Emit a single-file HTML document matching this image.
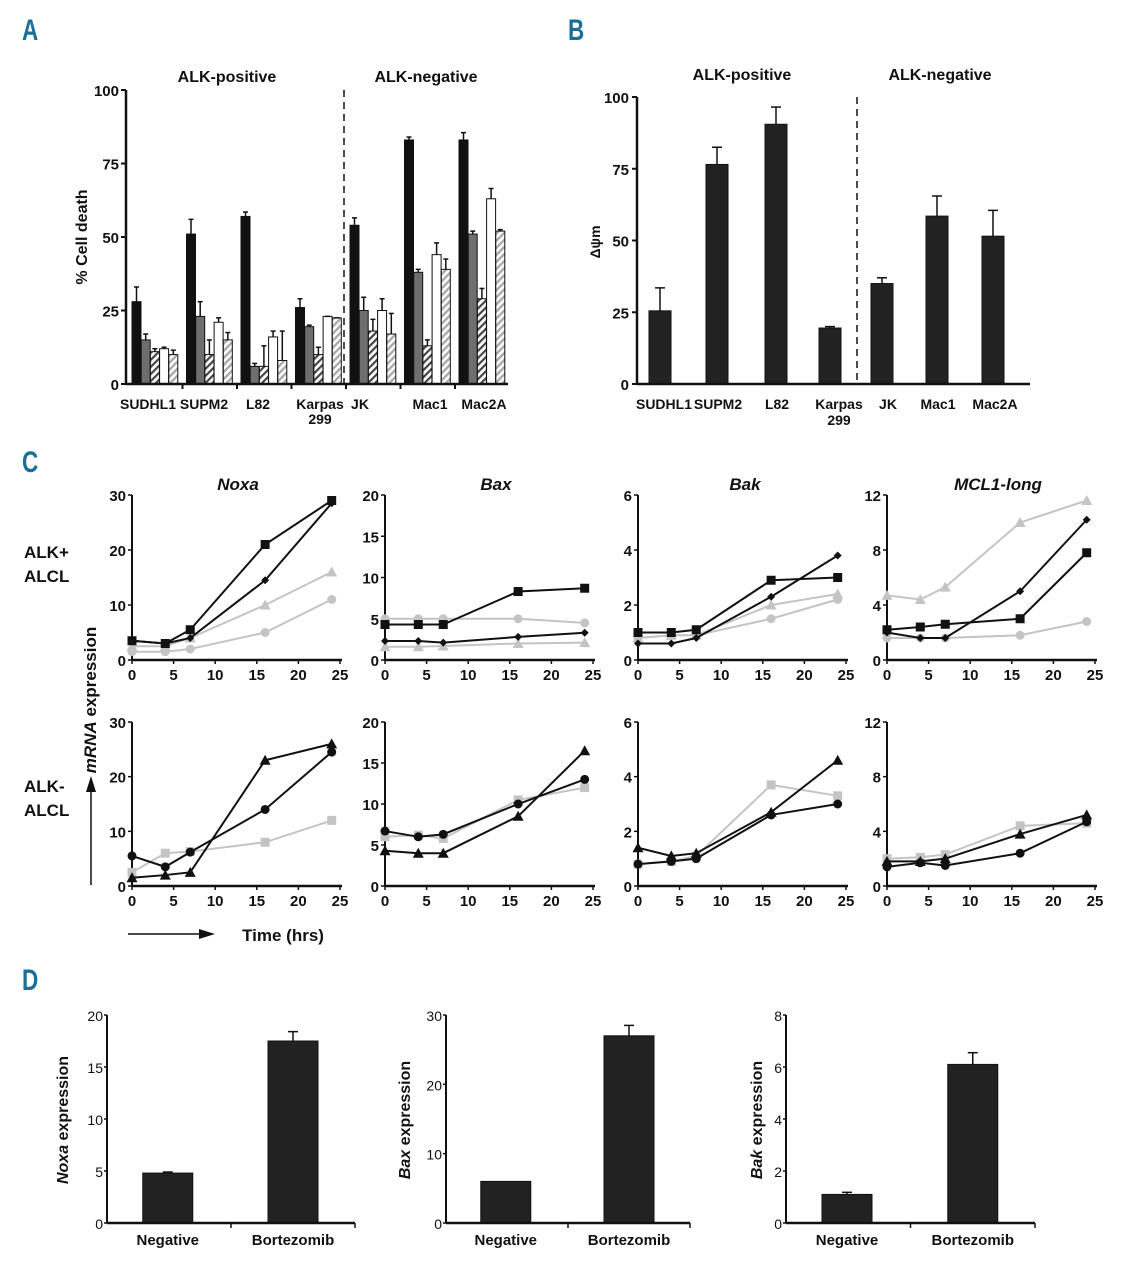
<!DOCTYPE html>
<html><head><meta charset="utf-8"><style>
body{margin:0;background:#fff;}
svg{display:block;font-family:"Liberation Sans",sans-serif;}
.L{font-weight:bold;font-size:30px;fill:#1b6e96;}
</style></head><body>
<svg id="fig" width="1125" height="1280" viewBox="0 0 1125 1280">
<defs>
<pattern id="hd" patternUnits="userSpaceOnUse" width="5" height="5" patternTransform="rotate(45)"><rect width="5" height="5" fill="#fff"/><rect width="2.2" height="5" fill="#444"/></pattern>
<pattern id="hl" patternUnits="userSpaceOnUse" width="5" height="5" patternTransform="rotate(45)"><rect width="5" height="5" fill="#fff"/><rect width="2.4" height="5" fill="#aaa"/></pattern>
</defs>
<g>
<text class="L" x="22" y="40" transform="translate(22 0) scale(0.75 1) translate(-22 0)">A</text>
<text class="L" x="568" y="40" transform="translate(568 0) scale(0.75 1) translate(-568 0)">B</text>
<text class="L" x="22" y="472" transform="translate(22 0) scale(0.75 1) translate(-22 0)">C</text>
<text class="L" x="22" y="990" transform="translate(22 0) scale(0.75 1) translate(-22 0)">D</text>
</g>
<g id="A"></g>
<g id="B"></g>
<g id="C"></g>
<g id="D"></g>
</svg>
<script>
// ---------- Panel A data ----------
const aCats = ["SUDHL1","SUPM2","L82","Karpas","JK","Mac1","Mac2A"];
const aBlack = [28,51,57,26,54,83,83];
const aGray = [15,23,6,19.5,25,38,51];
const aHatchDark = [11,10,6,10,18,13,29];
const aWhite = [12,21,16,23,25,44,63];
const aHatchLight = [10,15,8,22.5,17,39,52];
const aErrBlack = [5,5,1.5,3,2.5,1,2.5];
const aErrGray = [2,5,1,0.5,4.5,1,1];
const aErrHatchDark = [1,5,7,2.5,4,2,3.5];
const aErrWhite = [0.5,1.5,2,0,4,4,3.5];
const aErrHatchLight = [1.5,2.5,10,0,7,3.5,0.5];
const aTicks = [0,25,50,75,100];
// ---------- Panel B data ----------
const bCats = ["SUDHL1","SUPM2","L82","Karpas","JK","Mac1","Mac2A"];
const bVals = [25.5,76.5,90.5,19.5,35,58.5,51.5];
const bErr = [8,6,6,0.5,2,7,9];
const bTicks = [0,25,50,75,100];
// ---------- Panel C data ----------
const cTimes = [0,4,7,16,24];
const cXTicks = [0,5,10,15,20,25];
const cNoxaTopSquare = [3.5,3,5.5,21,29];
const cNoxaTopDiamond = [3.5,3,4,14.5,28.5];
const cNoxaTopTri = [2.5,2.5,4,10,16];
const cNoxaTopCircle = [1.5,1.5,2,5,11];
const cBaxTopSquare = [4.3,4.3,4.3,8.3,8.7];
const cBaxTopCircle = [5,5,5,5,4.5];
const cBaxTopDiamond = [2.3,2.3,2.1,2.8,3.3];
const cBaxTopTri = [1.6,1.6,1.7,2,2.1];
const cBakTopSquare = [1,1,1.1,2.9,3];
const cBakTopDiamond = [0.6,0.6,0.8,2.3,3.8];
const cBakTopTri = [0.8,0.9,0.9,2,2.4];
const cBakTopCircle = [0.8,0.9,0.9,1.5,2.2];
const cMclTopTri = [4.7,4.4,5.3,10,11.6];
const cMclTopDiamond = [2,1.6,1.6,5,10.2];
const cMclTopSquare = [2.2,2.4,2.6,3,7.8];
const cMclTopCircle = [1.6,1.6,1.6,1.8,2.8];
const cNoxaBotTri = [1.5,2,2.5,23,26];
const cNoxaBotCircle = [5.5,3.5,6.2,14,24.5];
const cNoxaBotSquare = [2.5,6,6.3,8,12];
const cBaxBotCircle = [6.7,6,6.3,10,13];
const cBaxBotSquare = [6,6.2,5.8,10.5,12];
const cBaxBotTri = [4.3,4,4,8.5,16.5];
const cBakBotTri = [1.4,1.1,1.2,2.7,4.6];
const cBakBotCircle = [0.8,0.9,1,2.6,3];
const cBakBotSquare = [0.8,0.9,1.1,3.7,3.3];
const cMclBotTri = [1.8,1.8,2,3.8,5.2];
const cMclBotCircle = [1.4,1.7,1.5,2.4,4.7];
const cMclBotSquare = [2,2.1,2.3,4.4,4.6];
const cNoxaTicks = [0,10,20,30];
const cBaxTicks = [0,5,10,15,20];
const cBakTicks = [0,2,4,6];
const cMclTicks = [0,4,8,12];
// ---------- Panel D data ----------
const dCats = ["Negative","Bortezomib"];
const dNoxa = [4.8,17.5];
const dNoxaErr = [0.1,0.9];
const dBax = [6,27];
const dBaxErr = [0,1.5];
const dBak = [1.1,6.1];
const dBakErr = [0.08,0.45];
const dNoxaTicks = [0,5,10,15,20];
const dBaxTicks = [0,10,20,30];
const dBakTicks = [0,2,4,6,8];

const NS="http://www.w3.org/2000/svg";
function mk(parent,tag,attrs,txt){const e=document.createElementNS(NS,tag);for(const k in attrs)e.setAttribute(k,attrs[k]);if(txt!==undefined)e.textContent=txt;parent.appendChild(e);return e;}
function line(p,x1,y1,x2,y2,st,w,name){const e=mk(p,'line',{x1,y1,x2,y2,stroke:st||'#111','stroke-width':w||2});

return e;}
function txt(p,x,y,s,anchor,size,name,extra){const e=mk(p,'text',Object.assign({x,y,'text-anchor':anchor||'middle','font-size':size||15,'font-weight':'bold',fill:'#111'},extra||{}),s);

return e;}
function errbar(p,x,y1,y2,col,cap){line(p,x,y1,x,y2,col,1.5,'error-bar');line(p,x-cap,y2,x+cap,y2,col,1.5,'error-cap');}

// ---------- Panel A ----------
(function(){
const g=document.getElementById('A');
const y0=384,y1=90,x0=126,x1=508;
const y=v=>y0-(v/100)*(y0-y1);
const gx=i=>132+i*54.5;
const series=[[aBlack,aErrBlack,'#111'],[aGray,aErrGray,'#6e6e6e'],[aHatchDark,aErrHatchDark,'url(#hd)'],[aWhite,aErrWhite,'#fff'],[aHatchLight,aErrHatchLight,'url(#hl)']];
const names=['bar-bortezomib','bar-series-2','bar-series-3','bar-series-4','bar-series-5'];
aCats.forEach((c,i)=>{series.forEach((s,j)=>{const v=s[0][i],bx=gx(i)+j*9.2;
const r=mk(g,'rect',{x:bx,y:y(v),width:9,height:y0-y(v),fill:s[2],stroke:'#111','stroke-width':1});


errbar(g,bx+4.5,y(v),y(v+s[1][i]),'#111',2.5);});});
line(g,x0,y0,x0,y1,'#111',2.5,'y-axis');line(g,x0,y0,x1,y0,'#111',2.5,'x-axis');
aTicks.forEach(t=>{line(g,x0-5,y(t),x0,y(t),'#111',2,'y-tick');txt(g,x0-7,y(t)+6,String(t),'end',15,'y-tick-label');});
for(let i=1;i<aCats.length;i++){line(g,gx(i)-4,y0,gx(i)-4,y0+5,'#111',2,'x-tick');}
line(g,344,90,344,384,'#111',1.5,'group-divider').setAttribute('stroke-dasharray','7 5');
const lx=[148,204,258,320,360,430,484];
aCats.forEach((c,i)=>txt(g,lx[i],409,c,'middle',14,'x-tick-label'));
txt(g,320,424,'299','middle',14,'x-tick-label');
txt(g,227,82,'ALK-positive','middle',16,'group-header');
txt(g,426,82,'ALK-negative','middle',16,'group-header');
txt(g,0,0,'% Cell death','middle',16,'y-axis-title',{transform:'translate(87 237) rotate(-90)'});
})();

// ---------- Panel B ----------
(function(){
const g=document.getElementById('B');
const y0=384,y1=97,x0=637,x1=1030;
const y=v=>y0-(v/100)*(y0-y1);
const cx=[660,717,776,830,882,937,993];
bCats.forEach((c,i)=>{const v=bVals[i];
const r=mk(g,'rect',{x:cx[i]-11,y:y(v),width:22,height:y0-y(v),fill:'#222',stroke:'#111','stroke-width':1});


errbar(g,cx[i],y(v),y(v+bErr[i]),'#111',5);});
line(g,x0,y0,x0,y1,'#111',2.5,'y-axis');line(g,x0,y0,x1,y0,'#111',2.5,'x-axis');
bTicks.forEach(t=>{line(g,x0-5,y(t),x0,y(t),'#111',2,'y-tick');txt(g,x0-8,y(t)+6,String(t),'end',15,'y-tick-label');});
line(g,857,97,857,384,'#111',1.5,'group-divider').setAttribute('stroke-dasharray','7 5');
const lx=[664,718,777,839,888,938,995];
bCats.forEach((c,i)=>txt(g,lx[i],409,c,'middle',14,'x-tick-label'));
txt(g,839,425,'299','middle',14,'x-tick-label');
txt(g,742,80,'ALK-positive','middle',16,'group-header');
txt(g,940,80,'ALK-negative','middle',16,'group-header');
txt(g,0,0,'Δψm','middle',14,'y-axis-title',{transform:'translate(600 242) rotate(-90)'});
})();

// ---------- Panel C ----------
(function(){
const g=document.getElementById('C');
const GR='#c4c4c4',BK='#111';
const xs=[132,385,638,887];
const ymax=[30,20,6,12];
const ticks=[cNoxaTicks,cBaxTicks,cBakTicks,cMclTicks];
const titles=['Noxa','Bax','Bak','MCL1-long'];
const tx=[238,496,745,998];
const rows=[{y0:660,h:165},{y0:886,h:164}];
const plots=[
 [[[cNoxaTopTri,GR,'tri'],[cNoxaTopCircle,GR,'circ'],[cNoxaTopDiamond,BK,'dia'],[cNoxaTopSquare,BK,'sq']],
  [[cBaxTopCircle,GR,'circ'],[cBaxTopTri,GR,'tri'],[cBaxTopDiamond,BK,'dia'],[cBaxTopSquare,BK,'sq']],
  [[cBakTopTri,GR,'tri'],[cBakTopCircle,GR,'circ'],[cBakTopDiamond,BK,'dia'],[cBakTopSquare,BK,'sq']],
  [[cMclTopTri,GR,'tri'],[cMclTopCircle,GR,'circ'],[cMclTopDiamond,BK,'dia'],[cMclTopSquare,BK,'sq']]],
 [[[cNoxaBotSquare,GR,'sq'],[cNoxaBotTri,BK,'tri'],[cNoxaBotCircle,BK,'circ']],
  [[cBaxBotSquare,GR,'sq'],[cBaxBotCircle,BK,'circ'],[cBaxBotTri,BK,'tri']],
  [[cBakBotSquare,GR,'sq'],[cBakBotTri,BK,'tri'],[cBakBotCircle,BK,'circ']],
  [[cMclBotSquare,GR,'sq'],[cMclBotTri,BK,'tri'],[cMclBotCircle,BK,'circ']]]];
function marker(p,x,y,type,col,s){let e;
 if(type==='sq')e=mk(p,'rect',{x:x-s,y:y-s,width:2*s,height:2*s,fill:col});
 else if(type==='circ')e=mk(p,'circle',{cx:x,cy:y,r:s,fill:col});
 else if(type==='tri')e=mk(p,'polygon',{points:`${x},${y-s-1} ${x-s-1},${y+s} ${x+s+1},${y+s}`,fill:col});
 else e=mk(p,'polygon',{points:`${x},${y-s} ${x+s},${y} ${x},${y+s} ${x-s},${y}`,fill:col});
 
 }
rows.forEach((R,ri)=>{xs.forEach((X0,ci)=>{
 const sub=mk(g,'g',{});
 
 
 const xp=t=>X0+t/25*208, yp=v=>R.y0-v/ymax[ci]*R.h;
 line(sub,X0,R.y0,X0,R.y0-R.h,'#111',2,'y-axis');line(sub,X0,R.y0,X0+210,R.y0,'#111',2.5,'x-axis');
 ticks[ci].forEach(t=>{line(sub,X0-4,yp(t),X0,yp(t),'#111',1.5,'y-tick');txt(sub,X0-6,yp(t)+6,String(t),'end',15,'y-tick-label');});
 cXTicks.forEach(t=>{line(sub,xp(t),R.y0,xp(t),R.y0+4,'#111',1.5,'x-tick');txt(sub,xp(t),R.y0+20,String(t),'middle',15,'x-tick-label');});
 plots[ri][ci].forEach(s=>{const vals=s[0];
  const pl=mk(sub,'polyline',{points:vals.map((v,k)=>xp(cTimes[k])+','+yp(v)).join(' '),fill:'none',stroke:s[1],'stroke-width':2});
  
  
  vals.forEach((v,k)=>marker(sub,xp(cTimes[k]),yp(v),s[2],s[1],s[2]==='dia'?4:4.5));});
});});
tx.forEach((x,i)=>txt(g,x,490,titles[i],'middle',17,'plot-title',{'font-style':'italic'}));
txt(g,24,558,'ALK+','start',17,'row-label');txt(g,24,582,'ALCL','start',17,'row-label');
txt(g,24,792,'ALK-','start',17,'row-label');txt(g,24,816,'ALCL','start',17,'row-label');
const yl=txt(g,0,0,'','middle',17,'y-axis-title',{transform:'translate(96 700) rotate(-90)'});
mk(yl,'tspan',{'font-style':'italic'},'mRNA');mk(yl,'tspan',{},'  expression');
line(g,91,885,91,790,'#111',1.5,'y-arrow');
const a1=mk(g,'polygon',{points:'91,776 86,792 96,792',fill:'#111'});


line(g,128,934,200,934,'#111',1.5,'x-arrow');
const a2=mk(g,'polygon',{points:'215,934 199,929 199,939',fill:'#111'});


txt(g,283,941,'Time (hrs)','middle',17,'x-axis-title');
})();

// ---------- Panel D ----------
(function(){
const g=document.getElementById('D');
const cfg=[[107,355,20,dNoxa,dNoxaErr,dNoxaTicks,'Noxa',68],[446,690,30,dBax,dBaxErr,dBaxTicks,'Bax',410],[786,1035,8,dBak,dBakErr,dBakTicks,'Bak',762]];
const y0=1223,h=208;
cfg.forEach(c=>{const [x0,x1,mx,vals,errs,tk,nm,lx]=c;
 const sub=mk(g,'g',{});
 
 
 const y=v=>y0-v/mx*h;
 const w=x1-x0;
 dCats.forEach((cat,i)=>{const cx=x0+w*(0.245+0.505*i),v=vals[i];
  const r=mk(sub,'rect',{x:cx-25,y:y(v),width:50,height:y0-y(v),fill:'#222',stroke:'#111','stroke-width':1});
  
  
  if(errs[i]>0)errbar(sub,cx,y(v),y(v+errs[i]),'#111',5);
  txt(sub,cx,1245,cat,'middle',15,'x-tick-label');});
 line(sub,x0,y0,x0,y0-h,'#111',2,'y-axis');line(sub,x0,y0,x1,y0,'#111',2.5,'x-axis');
 line(sub,x0+w*0.5,y0,x0+w*0.5,y0+5,'#111',1.5,'x-tick');line(sub,x1,y0,x1,y0+5,'#111',1.5,'x-tick');
 tk.forEach(t=>{line(sub,x0-3,y(t),x0,y(t),'#111',1.5,'y-tick');txt(sub,x0-4,y(t)+6,String(t),'end',14,'y-tick-label',{'font-weight':'normal'});});
 const yl=txt(sub,0,0,'','middle',16,'y-axis-title',{transform:`translate(${lx} 1120) rotate(-90)`});
 mk(yl,'tspan',{'font-style':'italic'},nm);mk(yl,'tspan',{},' expression');
});
})();
</script>
</body></html>
